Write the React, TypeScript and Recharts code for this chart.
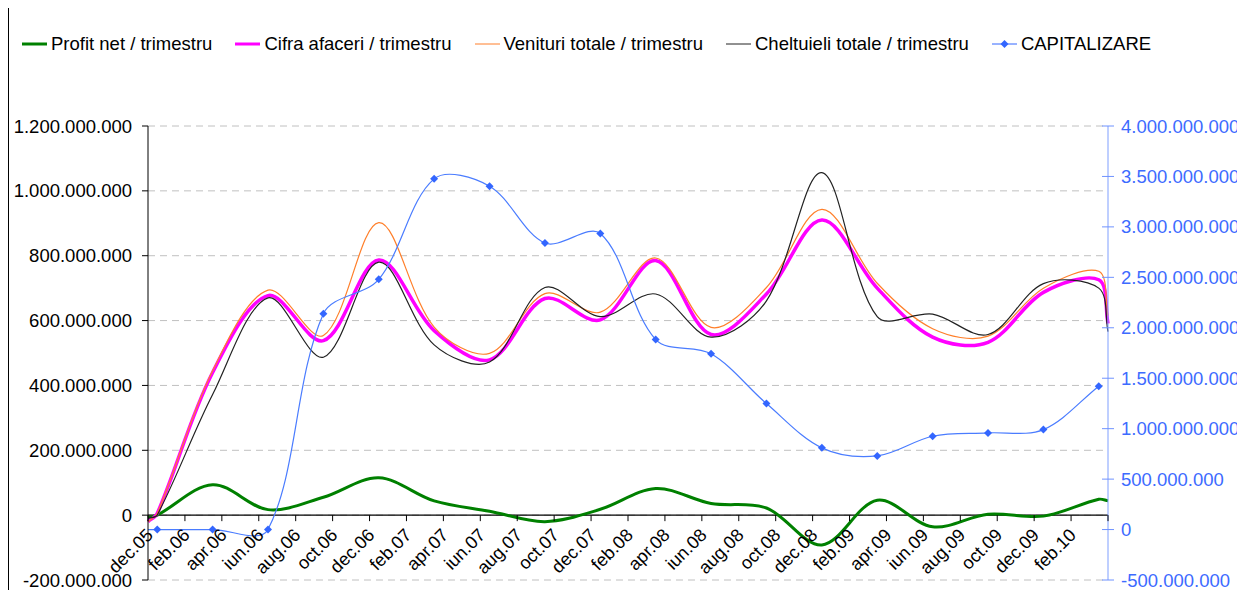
import { LineChart, Line, XAxis, YAxis, CartesianGrid, ReferenceLine } from 'recharts';

// x positions in months counted from dec.05
const monthPos = [0, 0.5, 3.5, 6.5, 9.5, 12.5, 15.5, 18.5, 21.5, 24.5, 27.5, 30.5, 33.5, 36.5, 39.5, 42.5, 45.5, 48.5, 51.5, 52];

// values in millions
const profitNet = [-8, 0, 94, 17, 55, 115, 44, 12, -20, 18, 82, 36, 22, -92, 46, -36, 3, -3, 49, 44];
const cifraAfaceri = [-20, 5, 440, 677, 538, 787, 569, 479, 668, 602, 785, 557, 682, 910, 700, 549, 533, 687, 726, 591];
const venituriTotale = [-20, 5, 445, 694, 554, 902, 580, 499, 683, 626, 793, 579, 702, 943, 715, 575, 552, 700, 752, 615];
const cheltuieliTotale = [-10, 0, 372, 670, 487, 780, 525, 472, 702, 612, 682, 549, 661, 1056, 612, 620, 557, 714, 700, 566];
const capitalizare = [0, 0, 0, 0, 2140, 2480, 3476, 3403, 2840, 2935, 1883, 1742, 1249, 810, 730, 925, 958, 991, 1421, null];

const tickMonths = [0, 2, 4, 6, 8, 10, 12, 14, 16, 18, 20, 22, 24, 26, 28, 30, 32, 34, 36, 38, 40, 42, 44, 46, 48, 50, 52];
const tickLabels = ['dec.05', 'feb.06', 'apr.06', 'iun.06', 'aug.06', 'oct.06', 'dec.06', 'feb.07', 'apr.07', 'iun.07', 'aug.07', 'oct.07', 'dec.07', 'feb.08', 'apr.08', 'iun.08', 'aug.08', 'oct.08', 'dec.08', 'feb.09', 'apr.09', 'iun.09', 'aug.09', 'oct.09', 'dec.09', 'feb.10', ''];

const leftTicks = [-200, 0, 200, 400, 600, 800, 1000, 1200];
const rightTicks = [-500, 0, 500, 1000, 1500, 2000, 2500, 3000, 3500, 4000];

const data = monthPos.map((m, i) => ({
  m,
  profit: profitNet[i],
  cifra: cifraAfaceri[i],
  venituri: venituriTotale[i],
  cheltuieli: cheltuieliTotale[i],
  cap: capitalizare[i],
}));

const FONT = '"Liberation Sans", Arial, sans-serif';
const W = 1237;
const H = 582;
const MARGIN = { top: 118, right: 8, left: 0, bottom: 0 };
const X_H = 10;
const plotH = H - MARGIN.top - MARGIN.bottom - X_H;
const zeroY = MARGIN.top + (plotH * leftTicks[leftTicks.length - 1]) / (leftTicks[leftTicks.length - 1] - leftTicks[0]);
const R_TICK = 6;
const R_MARGIN = 7;

const fmt = (v: number) => {
  const s = String(Math.abs(Math.round(v * 1e6))).replace(/\B(?=(\d{3})+(?!\d))/g, '.');
  return v < 0 ? '-' + s : s;
};

// smoothing similar to excel's smoothed lines
const excelSmooth = (context: any) => {
  let pts: number[][] = [];
  return {
    areaStart() {},
    areaEnd() {},
    lineStart() {
      pts = [];
    },
    point(x: number, y: number) {
      pts.push([+x, +y]);
    },
    lineEnd() {
      const n = pts.length;
      if (!n) return;
      context.moveTo(pts[0][0], pts[0][1]);
      if (n === 1) return;
      const dist = (a: number[], b: number[]) => Math.hypot(b[0] - a[0], b[1] - a[1]) || 1e-6;
      for (let i = 0; i < n - 1; i++) {
        const p0 = pts[Math.max(i - 1, 0)];
        const p1 = pts[i];
        const p2 = pts[i + 1];
        const p3 = pts[Math.min(i + 2, n - 1)];
        const d01 = i > 0 ? dist(p0, p1) : 0;
        const d12 = dist(p1, p2);
        const d23 = i + 2 < n ? dist(p2, p3) : 0;
        const a = d12 / (d01 + d12) / 3;
        const b = d12 / (d12 + d23) / 3;
        context.bezierCurveTo(
          p1[0] + (p2[0] - p0[0]) * a,
          p1[1] + (p2[1] - p0[1]) * a,
          p2[0] - (p3[0] - p1[0]) * b,
          p2[1] - (p3[1] - p1[1]) * b,
          p2[0],
          p2[1]
        );
      }
    },
  };
};

const MonthTick = (props: any) => {
  const { x, payload } = props;
  const label = tickLabels[tickMonths.indexOf(payload.value)];
  return (
    <g>
      <line x1={x} x2={x} y1={zeroY} y2={zeroY + 6} stroke="#000" />
      {label ? (
        <text
          transform={`translate(${x + 6},${zeroY + 21}) rotate(-45)`}
          textAnchor="end"
          fontSize={18}
          fontFamily={FONT}
          fill="#000"
        >
          {label}
        </text>
      ) : null}
    </g>
  );
};

const RightTick = (props: any) => {
  const { x, y, payload } = props;
  const ax = x - R_TICK - R_MARGIN;
  return (
    <g>
      <line x1={ax - 6} x2={ax + 6} y1={y} y2={y} stroke="#6f92ff" />
      <text x={x} y={y} dy="0.355em" textAnchor="start" fontSize={18.5} fontFamily={FONT} fill="#3d6bff">
        {fmt(payload.value)}
      </text>
    </g>
  );
};

const Diamond = (props: any) => {
  const { cx, cy, payload, index } = props;
  if (payload.m === 0 || cy == null) return <g key={index} />;
  return <path key={index} d={`M${cx},${cy - 4}L${cx + 4},${cy}L${cx},${cy + 4}L${cx - 4},${cy}Z`} fill="#3366ff" />;
};

const legendItems = [
  { name: 'Profit net / trimestru', color: '#008000', w: 3 },
  { name: 'Cifra afaceri / trimestru', color: '#ff00ff', w: 3 },
  { name: 'Venituri totale / trimestru', color: '#ff7f2a', w: 1 },
  { name: 'Cheltuieli totale / trimestru', color: '#222', w: 1 },
  { name: 'CAPITALIZARE', color: '#3366ff', w: 1, marker: true },
];

const App = () => (
  <div style={{ position: 'relative', width: W, height: H, fontFamily: FONT }}>
    <div style={{ position: 'absolute', left: 0, top: 0, width: 1, height: H, background: '#000' }} />
    <div
      style={{
        position: 'absolute',
        left: 14,
        top: 25,
        display: 'flex',
        gap: 23,
        fontSize: 18.5,
        lineHeight: '22px',
        color: '#000',
        whiteSpace: 'nowrap',
      }}
    >
      {legendItems.map((it) => (
        <div key={it.name} style={{ display: 'flex', alignItems: 'center' }}>
          <svg width={25} height={12} style={{ marginRight: 4 }}>
            <line x1={0} x2={25} y1={6} y2={6} stroke={it.color} strokeWidth={it.w} />
            {it.marker ? <path d="M12.5,2L16.5,6L12.5,10L8.5,6Z" fill={it.color} /> : null}
          </svg>
          <span>{it.name}</span>
        </div>
      ))}
    </div>
    <LineChart width={W} height={H} data={data} margin={MARGIN}>
      <CartesianGrid yAxisId="left" vertical={false} stroke="#c0c0c0" strokeDasharray="7 5" />
      <XAxis
        dataKey="m"
        type="number"
        domain={[0, 52]}
        ticks={tickMonths}
        interval={0}
        height={X_H}
        axisLine={false}
        tickLine={false}
        tick={<MonthTick />}
      />
      <YAxis
        yAxisId="left"
        width={140}
        domain={[leftTicks[0], leftTicks[leftTicks.length - 1]]}
        ticks={leftTicks}
        interval={0}
        tickFormatter={fmt}
        stroke="#000"
        tickSize={6}
        tickMargin={10}
        tick={{ fill: '#000', fontSize: 18.5, fontFamily: FONT }}
      />
      <YAxis
        yAxisId="right"
        orientation="right"
        width={129}
        domain={[rightTicks[0], rightTicks[rightTicks.length - 1]]}
        ticks={rightTicks}
        interval={0}
        stroke="#7f9fff"
        tickLine={false}
        tickSize={R_TICK}
        tickMargin={R_MARGIN}
        tick={<RightTick />}
      />
      <ReferenceLine yAxisId="left" y={0} stroke="#000" strokeWidth={1.2} />
      <Line yAxisId="left" dataKey="profit" type={excelSmooth as any} stroke="#008000" strokeWidth={3} dot={false} isAnimationActive={false} />
      <Line yAxisId="left" dataKey="cifra" type={excelSmooth as any} stroke="#ff00ff" strokeWidth={3.5} dot={false} isAnimationActive={false} />
      <Line yAxisId="left" dataKey="venituri" type={excelSmooth as any} stroke="#ff7f2a" strokeWidth={1.2} dot={false} isAnimationActive={false} />
      <Line yAxisId="left" dataKey="cheltuieli" type={excelSmooth as any} stroke="#222" strokeWidth={1.2} dot={false} isAnimationActive={false} />
      <Line yAxisId="right" dataKey="cap" type={excelSmooth as any} stroke="#4a7cff" strokeWidth={1.2} dot={<Diamond />} isAnimationActive={false} />
    </LineChart>
  </div>
);

export default App;
